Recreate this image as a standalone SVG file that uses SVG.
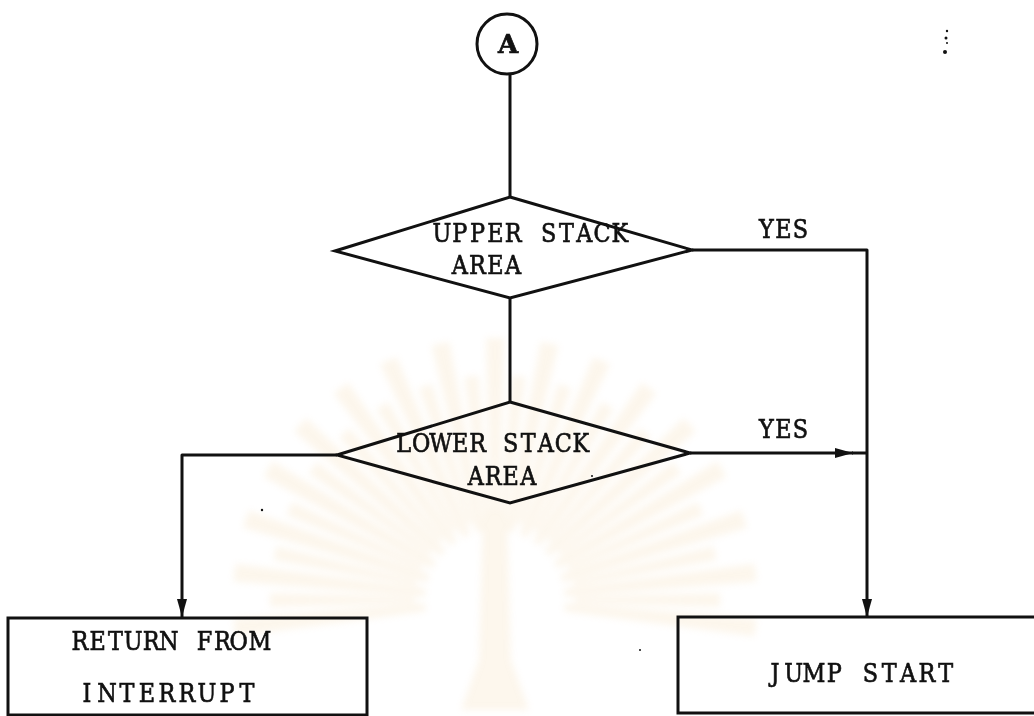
<svg xmlns="http://www.w3.org/2000/svg" xmlns:xlink="http://www.w3.org/1999/xlink" width="1034" height="716" viewBox="0 0 1034 716">
  <defs>
    <style>
      .ln { fill: none; stroke: #111; stroke-width: 3; stroke-linejoin: round; }
      .shape { fill: none; stroke: #111; stroke-width: 3; stroke-linejoin: miter; }
      .txt { font-family: "DejaVu Serif", "Liberation Serif", serif; font-size: 26px; fill: #111; stroke: #111; stroke-width: 0.7; text-anchor: middle; }
      .ray { fill: #f0c98a; }
    </style>
    <filter id="soft" x="-20%" y="-20%" width="140%" height="140%">
      <feGaussianBlur stdDeviation="3.5"/>
    </filter>
    <path id="rayL" class="ray" d="M-4,-70 L-9,-262 L9,-262 L4,-70 Z"/>
    <path id="rayS" class="ray" d="M-3,-80 L-7,-225 L7,-225 L3,-80 Z"/>
    <marker id="arrow" viewBox="0 0 18 10" refX="18" refY="5" markerWidth="18" markerHeight="10" markerUnits="userSpaceOnUse" orient="auto">
      <path d="M0,0 L18,5 L0,10 Z" fill="#111"/>
    </marker>
  </defs>

  <rect width="1034" height="716" fill="#ffffff"/>

  <!-- faint seal printed behind the chart -->
  <g id="seal" opacity="0.16" filter="url(#soft)">
    <g transform="translate(495,600)">
      <use xlink:href="#rayL" transform="rotate(-96)"/>
      <use xlink:href="#rayS" transform="rotate(-90)"/>
      <use xlink:href="#rayL" transform="rotate(-84)"/>
      <use xlink:href="#rayS" transform="rotate(-78)"/>
      <use xlink:href="#rayL" transform="rotate(-72)"/>
      <use xlink:href="#rayS" transform="rotate(-66)"/>
      <use xlink:href="#rayL" transform="rotate(-60)"/>
      <use xlink:href="#rayS" transform="rotate(-54)"/>
      <use xlink:href="#rayL" transform="rotate(-48)"/>
      <use xlink:href="#rayS" transform="rotate(-42)"/>
      <use xlink:href="#rayL" transform="rotate(-36)"/>
      <use xlink:href="#rayS" transform="rotate(-30)"/>
      <use xlink:href="#rayL" transform="rotate(-24)"/>
      <use xlink:href="#rayS" transform="rotate(-18)"/>
      <use xlink:href="#rayL" transform="rotate(-12)"/>
      <use xlink:href="#rayS" transform="rotate(-6)"/>
      <use xlink:href="#rayL" transform="rotate(0)"/>
      <use xlink:href="#rayS" transform="rotate(6)"/>
      <use xlink:href="#rayL" transform="rotate(12)"/>
      <use xlink:href="#rayS" transform="rotate(18)"/>
      <use xlink:href="#rayL" transform="rotate(24)"/>
      <use xlink:href="#rayS" transform="rotate(30)"/>
      <use xlink:href="#rayL" transform="rotate(36)"/>
      <use xlink:href="#rayS" transform="rotate(42)"/>
      <use xlink:href="#rayL" transform="rotate(48)"/>
      <use xlink:href="#rayS" transform="rotate(54)"/>
      <use xlink:href="#rayL" transform="rotate(60)"/>
      <use xlink:href="#rayS" transform="rotate(66)"/>
      <use xlink:href="#rayL" transform="rotate(72)"/>
      <use xlink:href="#rayS" transform="rotate(78)"/>
      <use xlink:href="#rayL" transform="rotate(84)"/>
      <use xlink:href="#rayS" transform="rotate(90)"/>
      <use xlink:href="#rayL" transform="rotate(96)"/>
      <path class="ray" d="M-12,-90 L12,-90 L16,60 L34,110 L-34,110 L-16,60 Z"/>
    </g>
  </g>

  <!-- connectors -->
  <g id="connectors">
    <path class="ln" d="M510,75 V197"/>
    <path class="ln" d="M510,298 V402"/>
    <path class="ln" d="M692,250 H867 V617" marker-end="url(#arrow)"/>
    <path class="ln" d="M690,453 H853" marker-end="url(#arrow)"/>
    <path class="ln" d="M852,453 H867"/>
    <path class="ln" d="M337,455 H182 V617" marker-end="url(#arrow)"/>
  </g>

  <!-- connector labels, typed in fixed-pitch cells (glyphs narrowed to 86%) -->
  <g id="labels">
    <text class="txt" transform="translate(766.5,0) scale(0.86,1)" x="0 19.77 39.53" y="238">YES</text>
    <text class="txt" transform="translate(766.5,0) scale(0.86,1)" x="0 19.77 39.53" y="438">YES</text>
  </g>

  <!-- off-page connector A -->
  <g id="node-a">
    <circle class="shape" cx="507" cy="44" r="30"/>
    <text class="txt" x="508" y="53" style="font-weight:bold">A</text>
  </g>

  <!-- decision: upper stack area -->
  <g id="node-upper">
    <polygon class="shape" points="510,197 692,250 510,298 335,251"/>
    <text class="txt" transform="translate(441.9,0) scale(0.86,1)" x="0 20.70 41.40 62.09 82.79 103.49 124.19 144.89 165.58 186.28 206.98" y="242">UPPER STACK</text>
    <text class="txt" transform="translate(459.7,0) scale(0.86,1)" x="0 20.70 41.40 62.09" y="274">AREA</text>
  </g>

  <!-- decision: lower stack area (wide W gets a little extra room) -->
  <g id="node-lower">
    <polygon class="shape" points="510,402 690,453 510,503 337,455"/>
    <text class="txt" transform="translate(405.75,0) scale(0.86,1)" x="-2.3 18.05 40.70 63.38 83.73 101.74 122.09 142.44 162.79 183.14 203.49" y="452">LOWER STACK</text>
    <text class="txt" transform="translate(475.75,0) scale(0.86,1)" x="0 20.35 40.70 61.05" y="485">AREA</text>
  </g>

  <!-- process: return from interrupt -->
  <g id="node-return">
    <rect class="shape" x="8" y="618" width="359" height="97"/>
    <text class="txt" transform="translate(79.9,0) scale(0.86,1)" x="0 20.70 41.40 62.09 82.79 103.49 124.19 144.89 165.58 184.6 209.3" y="650">RETURN FROM</text>
    <text class="txt" transform="translate(87,0) scale(0.86,1)" x="0 23.26 46.51 69.77 93.02 116.28 139.53 162.79 186.05" y="702">INTERRUPT</text>
  </g>

  <!-- process: jump start -->
  <g id="node-jump">
    <path class="shape" d="M1040,617 H678 V713 H1040"/>
    <text class="txt" transform="translate(776.4,0) scale(0.86,1)" x="-1.7 20.1 43.72 67.3 87.44 109.30 131.16 153.02 174.88 196.74" y="682">JUMP START</text>
  </g>

  <!-- specks -->
  <g id="specks" fill="#111">
    <circle cx="947" cy="31" r="1.2"/>
    <circle cx="946" cy="38" r="1.5"/>
    <circle cx="947" cy="43" r="1"/>
    <circle cx="945" cy="52" r="2"/>
    <circle cx="262" cy="510" r="1.2"/>
    <circle cx="640" cy="650" r="1"/>
    <circle cx="592" cy="476" r="1"/>
  </g>
</svg>
